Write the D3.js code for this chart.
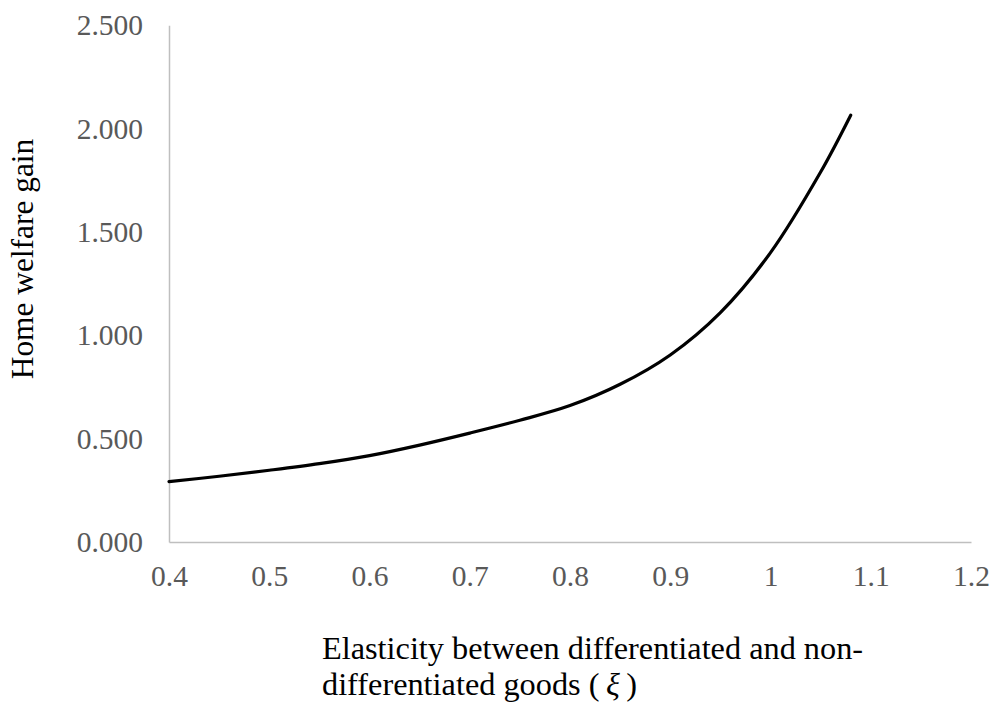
<!DOCTYPE html>
<html>
<head>
<meta charset="utf-8">
<script src="https://cdn.jsdelivr.net/npm/d3@7"></script>
<style>
  html, body { margin: 0; padding: 0; background: #fff; }
  svg { display: block; }
</style>
</head>
<body>
<svg id="chart" width="993" height="704"></svg>
<script>
// Data
const xValues = [0.40, 0.45, 0.50, 0.55, 0.60, 0.65, 0.70, 0.75, 0.80, 0.85, 0.90, 0.95, 1.00, 1.05, 1.08];
const welfareGain = [0.292, 0.318, 0.347, 0.379, 0.418, 0.469, 0.527, 0.589, 0.660, 0.763, 0.905, 1.110, 1.400, 1.790, 2.065];
const xTicks = [0.4, 0.5, 0.6, 0.7, 0.8, 0.9, 1.0, 1.1, 1.2];
const xTickLabels = ["0.4", "0.5", "0.6", "0.7", "0.8", "0.9", "1", "1.1", "1.2"];
const yTicks = [0, 0.5, 1.0, 1.5, 2.0, 2.5];
const yTickLabels = ["0.000", "0.500", "1.000", "1.500", "2.000", "2.500"];
const yTitle = "Home welfare gain";
const xTitleLine1 = "Elasticity between differentiated and non-";
const xTitleLine2a = "differentiated goods (\u2009";
const xTitleSymbol = "ξ";
const xTitleLine2b = "\u2009)";

const svg = d3.select("#chart");
const font = "'Liberation Serif', 'Times New Roman', Times, serif";

const x = d3.scaleLinear().domain([0.4, 1.2]).range([169, 971]);
const y = d3.scaleLinear().domain([0, 2.5]).range([542, 25.3]);

// Y axis
const yAxis = d3.axisLeft(y)
  .tickValues(yTicks)
  .tickFormat((d, i) => yTickLabels[i])
  .tickSize(0).tickSizeOuter(0).tickPadding(26);
const gy = svg.append("g").attr("transform", `translate(${x(0.4)},0)`).call(yAxis);
gy.select(".domain").attr("stroke", "#bfbfbf").attr("stroke-width", 1.5);
gy.selectAll("text").attr("font-family", font).attr("font-size", 29.5).attr("fill", "#595959");

// X axis
const xAxis = d3.axisBottom(x)
  .tickValues(xTicks)
  .tickFormat((d, i) => xTickLabels[i])
  .tickSize(0).tickSizeOuter(0).tickPadding(0);
const gx = svg.append("g").attr("transform", `translate(0,${y(0)})`).call(xAxis);
gx.select(".domain").attr("stroke", "#bfbfbf").attr("stroke-width", 1.5);
gx.selectAll("text").attr("font-family", font).attr("font-size", 29.5).attr("fill", "#595959")
  .attr("dy", null).attr("y", 44);

// Line
const data = xValues.map((v, i) => ({ x: v, y: welfareGain[i] }));
const line = d3.line().x(d => x(d.x)).y(d => y(d.y)).curve(d3.curveCatmullRom.alpha(0.5));
svg.append("path").datum(data)
  .attr("d", line)
  .attr("fill", "none")
  .attr("stroke", "#000")
  .attr("stroke-width", 3.2)
  .attr("stroke-linecap", "round")
  .attr("stroke-linejoin", "round");

// Y title
svg.append("text")
  .attr("transform", "rotate(-90)")
  .attr("x", -259).attr("y", 33)
  .attr("text-anchor", "middle")
  .attr("font-family", font).attr("font-size", 31.4).attr("fill", "#000")
  .text(yTitle);

// X title (two lines, left aligned)
const xt = svg.append("text")
  .attr("font-family", font).attr("font-size", 32.3).attr("fill", "#000");
xt.append("tspan").attr("x", 322).attr("y", 659).text(xTitleLine1);
xt.append("tspan").attr("x", 322).attr("y", 695).text(xTitleLine2a)
  .append("tspan").attr("font-style", "italic").text(xTitleSymbol);
xt.append("tspan").text(xTitleLine2b);
</script>
</body>
</html>
